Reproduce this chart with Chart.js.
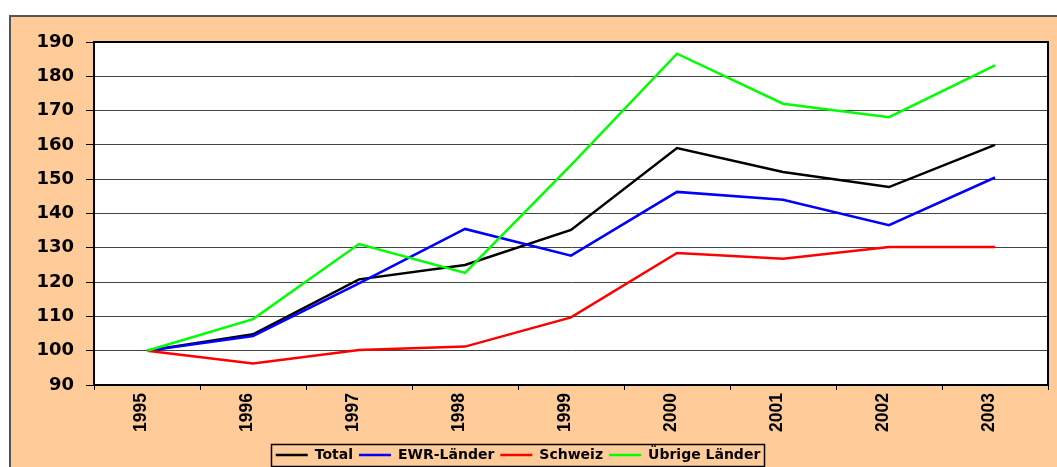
<!DOCTYPE html>
<html>
<head>
<meta charset="utf-8">
<script src="https://cdn.jsdelivr.net/npm/chart.js@4/dist/chart.umd.min.js"></script>
<style>
html,body{margin:0;padding:0;background:#fff;overflow:hidden;}
#wrap{position:relative;width:1057px;height:467px;}
canvas{display:block;}
</style>
</head>
<body>
<div id="wrap"><canvas id="c" width="1057" height="467"></canvas></div>
<script>
const years = ['1995','1996','1997','1998','1999','2000','2001','2002','2003'];
const seriesNames = ['Total','EWR-Länder','Schweiz','Übrige Länder'];
const total   = [100, 104.8, 120.8, 125.0, 135.2, 159.1, 152.1, 147.7, 160.0];
const ewr     = [100, 104.3, 119.6, 135.5, 127.7, 146.3, 144.0, 136.6, 150.5];
const schweiz = [100,  96.3, 100.2, 101.2, 109.7, 128.5, 126.8, 130.2, 130.2];
const uebrige = [100, 109.2, 131.1, 122.7, 154.1, 186.6, 172.0, 168.1, 183.2];
const yMin = 90, yMax = 190, yStep = 10;

const seriesColors = ['#000000', '#0000FF', '#FF0000', '#00FF00'];
const seriesData = [total, ewr, schweiz, uebrige];

const frame = {
  id: 'frame',
  beforeDraw(chart) {
    const ctx = chart.ctx;
    ctx.save();
    ctx.fillStyle = '#ffffff';
    ctx.fillRect(0, 0, chart.width, chart.height);
    ctx.fillStyle = '#FFCC99';
    ctx.fillRect(10, 16, chart.width, chart.height);
    ctx.strokeStyle = '#555555';
    ctx.lineWidth = 2;
    ctx.strokeRect(10, 16, chart.width + 20, chart.height + 20);
    const a = chart.chartArea;
    ctx.fillStyle = '#ffffff';
    ctx.fillRect(a.left, a.top, a.right - a.left, a.bottom - a.top);
    ctx.restore();
  },
  afterLayout(chart) {
    const lg = chart.legend;
    if (lg) { lg.left -= 6; lg.right -= 6; lg.top += 5; lg.bottom += 5; }
  },
  afterDatasetsDraw(chart) {
    const ctx = chart.ctx, a = chart.chartArea;
    ctx.save();
    ctx.strokeStyle = '#000';
    ctx.lineWidth = 2;
    ctx.strokeRect(a.left, a.top, a.right - a.left, a.bottom - a.top);
    ctx.restore();
  },
  afterDraw(chart) {
    const lg = chart.legend;
    if (!lg || !lg.legendHitBoxes || !lg.legendHitBoxes.length) return;
    const hb = lg.legendHitBoxes;
    let l = Infinity, r = -Infinity, t = Infinity, b = -Infinity;
    hb.forEach(h => { l = Math.min(l, h.left); r = Math.max(r, h.left + h.width); t = Math.min(t, h.top); b = Math.max(b, h.top + h.height); });
    const ctx = chart.ctx;
    ctx.save();
    ctx.strokeStyle = '#000';
    ctx.lineWidth = 1.5;
    ctx.strokeRect(Math.round(l - 5) + 0.5, Math.round(t - 4) + 0.5, Math.round(r - l + 8), Math.round(b - t + 8));
    ctx.restore();
  }
};

new Chart(document.getElementById('c'), {
  type: 'line',
  data: {
    labels: years,
    datasets: seriesNames.map((n, i) => ({
      label: n,
      data: seriesData[i],
      borderColor: seriesColors[i],
      backgroundColor: seriesColors[i],
      borderWidth: 2.5,
      pointRadius: 0,
      tension: 0,
      order: 4 - i
    }))
  },
  options: {
    responsive: false,
    animation: false,
    layout: { padding: { top: 42, right: 9, left: 0, bottom: 0 } },
    plugins: {
      tooltip: { enabled: false },
      legend: {
        position: 'bottom',
        labels: {
          usePointStyle: true,
          pointStyle: 'line',
          pointStyleWidth: 32,
          boxWidth: 32,
          boxHeight: 14,
          padding: 6,
          color: '#000',
          font: { family: 'DejaVu Sans', size: 14, weight: 'bold' },
          sort: (a, b) => a.datasetIndex - b.datasetIndex
        }
      }
    },
    scales: {
      x: {
        offset: true,
        grid: { display: true, drawOnChartArea: false, drawTicks: true, tickLength: 5, tickColor: '#000', offset: true },
        border: { display: true, color: '#000', width: 2 },
        ticks: {
          minRotation: 90, maxRotation: 90, padding: 3, color: '#000', labelOffset: -6,
          font: { family: 'Liberation Sans', size: 17.5, weight: 'bold' }
        },
        afterFit(scale) {
          const lh = scale.chart.legend ? scale.chart.legend.height : 0;
          scale.height = scale.chart.height - 385 - lh;
        }
      },
      y: {
        min: yMin, max: yMax,
        grid: { color: '#444444', lineWidth: 1, drawTicks: true, tickLength: 8, tickColor: '#000' },
        border: { display: true, color: '#000', width: 2 },
        ticks: {
          stepSize: yStep, padding: 12, color: '#000',
          font: { family: 'DejaVu Sans', size: 18, weight: 'bold' }
        },
        afterFit(scale) { scale.width = 94; }
      }
    }
  },
  plugins: [frame]
});
</script>
</body>
</html>
